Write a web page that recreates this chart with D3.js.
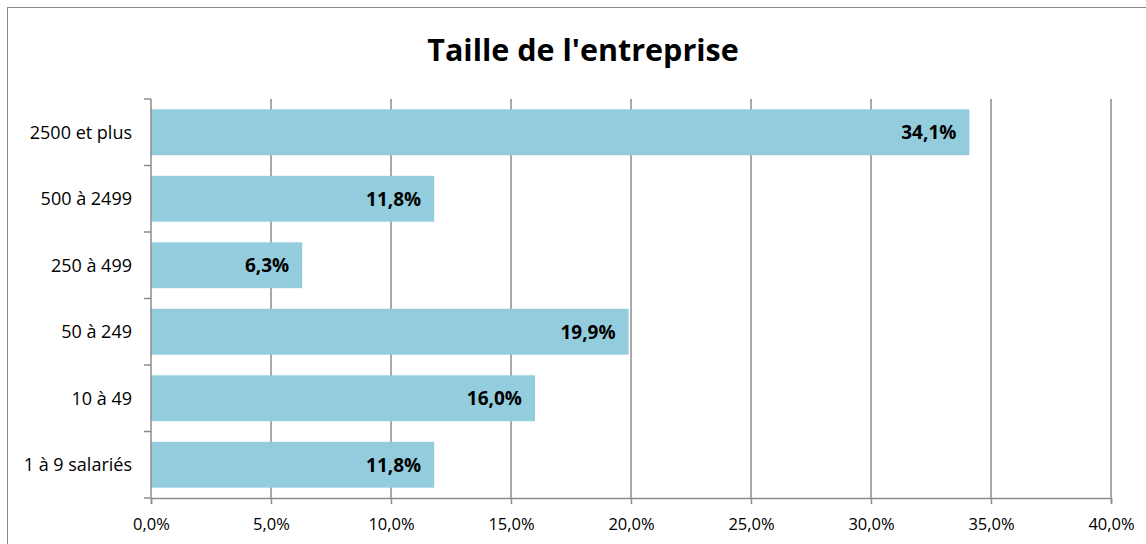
<!DOCTYPE html>
<html>
<head>
<meta charset="utf-8">
<script src="https://cdn.jsdelivr.net/npm/d3@7/dist/d3.min.js"></script>
<style>
  html, body { margin: 0; padding: 0; background: #fff; }
  svg text { font-family: "Open Sans", "Liberation Sans", sans-serif; fill: #000; }
</style>
</head>
<body>
<div id="chart"></div>
<script>
// Données
const categories = ['2500 et plus', '500 à 2499', '250 à 499', '50 à 249', '10 à 49', '1 à 9 salariés'];
const values     = [34.1, 11.8, 6.3, 19.9, 16.0, 11.8];
const xTicks     = [0, 5, 10, 15, 20, 25, 30, 35, 40];
const title      = "Taille de l'entreprise";

const W = 1146, H = 544;
const margin = { left: 151, right: 35, top: 99, bottom: 46 };

const svg = d3.select('#chart').append('svg')
    .attr('width', W).attr('height', H);

// cadre
svg.append('rect')
    .attr('x', 7.5).attr('y', 7.5)
    .attr('width', W + 20).attr('height', H + 20)
    .attr('fill', '#fff').attr('stroke', '#888').attr('stroke-width', 1);

const x = d3.scaleLinear().domain([0, 40]).range([margin.left, W - margin.right]);
const y = d3.scaleBand().domain(categories)
    .range([margin.top, H - margin.bottom])
    .paddingInner(0.31).paddingOuter(0.155);

const y0 = margin.top, y1 = H - margin.bottom;

// Grille verticale
svg.append('g').selectAll('line').data(xTicks.slice(1)).join('line')
    .attr('x1', d => x(d)).attr('x2', d => x(d))
    .attr('y1', y0).attr('y2', y1)
    .attr('stroke', '#8c8c8c').attr('stroke-width', 1.5);

// Barres
svg.append('g').selectAll('rect').data(values).join('rect')
    .attr('x', x(0))
    .attr('y', (d, i) => y(categories[i]))
    .attr('width', d => x(d) - x(0))
    .attr('height', y.bandwidth())
    .attr('fill', '#93cddd');

// Étiquettes des valeurs
svg.append('g').selectAll('text').data(values).join('text')
    .attr('x', d => x(d) - 13)
    .attr('y', (d, i) => y(categories[i]) + y.bandwidth() / 2)
    .attr('dy', '0.38em')
    .attr('text-anchor', 'end')
    .style('font-size', '19px').style('font-weight', 'bold')
    .text(d => d.toFixed(1).replace('.', ',') + '%');

// Axe X
const xAxis = d3.axisBottom(x).tickValues(xTicks).tickSize(6).tickPadding(14)
    .tickFormat(d => d.toFixed(1).replace('.', ',') + '%');
const gx = svg.append('g').attr('transform', `translate(0,${y1})`).call(xAxis);
gx.select('.domain').attr('stroke', '#8c8c8c').attr('stroke-width', 1.5);
gx.selectAll('.tick line').attr('stroke', '#8c8c8c').attr('stroke-width', 1.5);
gx.selectAll('.tick text').style('font-size', '16.5px');

// Axe Y
const yEdges = d3.range(categories.length + 1).map(i => y0 + i * (y1 - y0) / categories.length);
const gy = svg.append('g');
gy.append('line')
    .attr('x1', x(0)).attr('x2', x(0)).attr('y1', y0).attr('y2', y1)
    .attr('stroke', '#8c8c8c').attr('stroke-width', 1.5);
gy.selectAll('line.tk').data(yEdges).join('line').attr('class', 'tk')
    .attr('x1', x(0) - 7).attr('x2', x(0))
    .attr('y1', d => d).attr('y2', d => d)
    .attr('stroke', '#8c8c8c').attr('stroke-width', 1.5);
gy.selectAll('text').data(categories).join('text')
    .attr('x', x(0) - 19)
    .attr('y', d => y(d) + y.bandwidth() / 2)
    .attr('dy', '0.36em')
    .attr('text-anchor', 'end')
    .style('font-size', '18px')
    .text(d => d);

// Titre
svg.append('text')
    .attr('x', 583).attr('y', 61)
    .attr('text-anchor', 'middle')
    .style('font-size', '30.5px').style('font-weight', 'bold')
    .text(title);
</script>
</body>
</html>
